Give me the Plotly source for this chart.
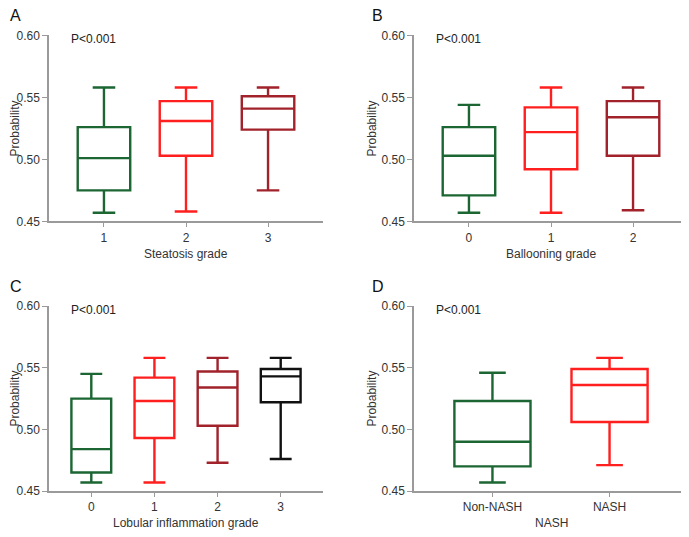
import plotly.graph_objects as go
from plotly.subplots import make_subplots

# box summaries (lower whisker, Q1, median, Q3, upper whisker)
steatosis_cats = ["1", "2", "3"]
steatosis_low = [0.457, 0.458, 0.475]
steatosis_q1 = [0.475, 0.503, 0.524]
steatosis_med = [0.501, 0.531, 0.541]
steatosis_q3 = [0.526, 0.547, 0.551]
steatosis_high = [0.558, 0.558, 0.558]

ballooning_cats = ["0", "1", "2"]
ballooning_low = [0.457, 0.457, 0.459]
ballooning_q1 = [0.471, 0.492, 0.503]
ballooning_med = [0.503, 0.522, 0.534]
ballooning_q3 = [0.526, 0.542, 0.547]
ballooning_high = [0.544, 0.558, 0.558]

lobular_cats = ["0", "1", "2", "3"]
lobular_low = [0.457, 0.457, 0.473, 0.476]
lobular_q1 = [0.465, 0.493, 0.503, 0.522]
lobular_med = [0.484, 0.523, 0.534, 0.543]
lobular_q3 = [0.525, 0.542, 0.547, 0.549]
lobular_high = [0.545, 0.558, 0.558, 0.558]

nash_cats = ["Non-NASH", "NASH"]
nash_low = [0.457, 0.471]
nash_q1 = [0.470, 0.506]
nash_med = [0.490, 0.536]
nash_q3 = [0.523, 0.549]
nash_high = [0.546, 0.558]

colors = ["#1b6632", "#ff1f1f", "#a1222b", "#111111"]

FONT = "Liberation Sans, Arial, sans-serif"
# the page body has an 8px margin, so the figure is drawn 8px in from the corner
OFF = 8
W, H = 689 - OFF, 537 - OFF

panels = [
    ("A", "Steatosis grade", steatosis_cats, steatosis_low, steatosis_q1, steatosis_med, steatosis_q3, steatosis_high, 0.64, 0.43),
    ("B", "Ballooning grade", ballooning_cats, ballooning_low, ballooning_q1, ballooning_med, ballooning_q3, ballooning_high, 0.64, 0.43),
    ("C", "Lobular inflammation grade", lobular_cats, lobular_low, lobular_q1, lobular_med, lobular_q3, lobular_high, 0.63, 0.55),
    ("D", "NASH", nash_cats, nash_low, nash_q1, nash_med, nash_q3, nash_high, 0.65, 0.35),
]

# page-pixel boxes of the four plot areas (left, right, top, bottom)
areas = [(49, 323, 29, 220), (414, 688, 29, 220), (49, 323, 307, 497), (414, 688, 307, 497)]


def px(x):
    return (x - OFF) / W


def py(y):
    return 1 - (y - OFF) / H


fig = make_subplots(rows=2, cols=2)

annotations = []
for i, (letter, xtitle, cats, lo, q1, med, q3, hi, bw, ww) in enumerate(panels):
    r, c = i // 2 + 1, i % 2 + 1
    for j, cat in enumerate(cats):
        fig.add_trace(go.Box(
            x=[cat], q1=[q1[j]], median=[med[j]], q3=[q3[j]],
            lowerfence=[lo[j]], upperfence=[hi[j]],
            width=bw, whiskerwidth=ww,
            line=dict(color=colors[j], width=2.4),
            fillcolor="rgba(0,0,0,0)", showlegend=False, hoverinfo="skip",
        ), row=r, col=c)

    left, right, top, bottom = areas[i]
    n = len(cats)
    fig.update_xaxes(domain=[px(left), min(px(right), 1)], type="category",
                     range=[-0.67, n - 1 + 0.67],
                     showline=True, linecolor="#9a9a9a", linewidth=1.5,
                     ticks="outside", ticklen=4, tickcolor="#9a9a9a",
                     showgrid=False, zeroline=False,
                     tickfont=dict(size=12, color="#333333", family=FONT),
                     row=r, col=c)
    fig.update_yaxes(domain=[py(bottom), py(top)], range=[0.45, 0.60],
                     tickvals=[0.45, 0.50, 0.55, 0.60], tickformat=".2f",
                     showline=True, linecolor="#9a9a9a", linewidth=1.5,
                     ticks="outside", ticklen=5, tickcolor="#9a9a9a",
                     showgrid=False, zeroline=False,
                     tickfont=dict(size=12, color="#333333", family=FONT),
                     row=r, col=c)

    base = dict(xref="paper", yref="paper", showarrow=False)
    annotations.append(dict(base, text=letter, x=max(px(left - 44), 0), y=py(top - 20),
                            xanchor="left", yanchor="middle",
                            font=dict(size=16, color="#111111", family=FONT)))
    annotations.append(dict(base, text="P<0.001", x=px(left + 20), y=py(top + 4),
                            xanchor="left", yanchor="middle",
                            font=dict(size=12, color="#222222", family=FONT)))
    annotations.append(dict(base, text="Probability", x=px(max(left - 42, 15)), y=py((top + bottom) / 2),
                            xanchor="center", yanchor="middle", textangle=-90,
                            font=dict(size=12, color="#333333", family=FONT)))
    annotations.append(dict(base, text=xtitle, x=px((left + right) / 2), y=py(bottom + 33),
                            xanchor="center", yanchor="middle",
                            font=dict(size=12, color="#333333", family=FONT)))

fig.update_layout(
    width=W, height=H,
    margin=dict(l=0, r=0, t=0, b=0),
    paper_bgcolor="white", plot_bgcolor="white",
    boxmode="overlay",
    font=dict(family=FONT),
    annotations=annotations,
)

fig.write_html("out.html")
